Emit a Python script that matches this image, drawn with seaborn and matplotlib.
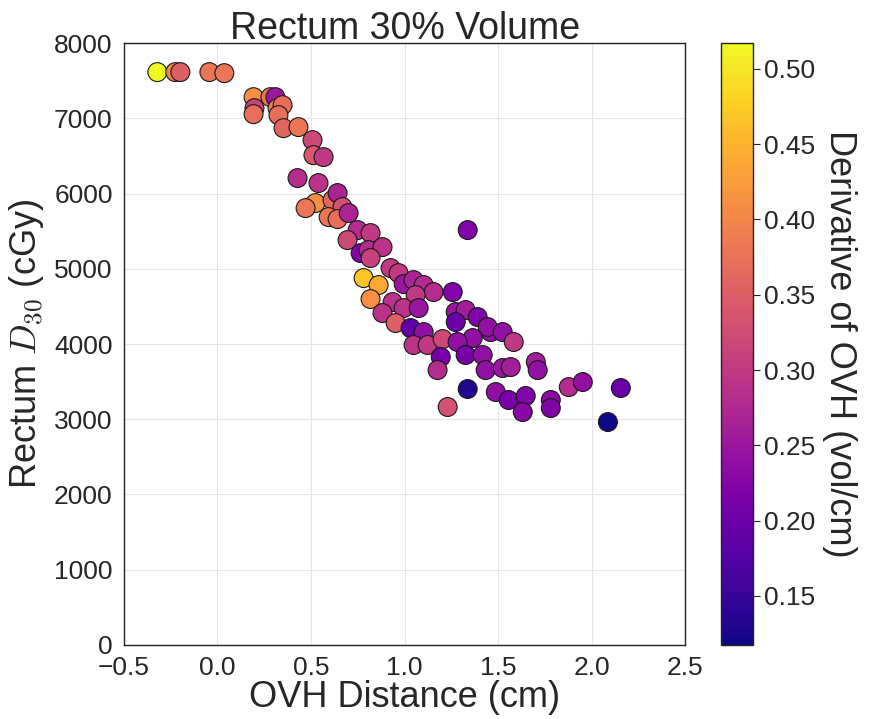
import numpy as np
import pandas as pd
import matplotlib
matplotlib.use("Agg")
import matplotlib.pyplot as plt
import seaborn as sns
from matplotlib.colors import Normalize
from matplotlib.cm import ScalarMappable

# OVH distance (cm)
ovh_distance = [
    -0.321, -0.225, -0.198, -0.043, 0.037, 0.193, 0.198, 0.193, 0.283, 0.310,
    0.321, 0.348, 0.326, 0.353, 0.433, 0.508, 0.513, 0.567, 0.428, 0.540,
    0.524, 0.471, 0.615, 0.642, 0.668, 0.594, 0.642, 0.701, 0.749, 0.818,
    0.695, 0.765, 0.807, 0.882, 0.818, 0.781, 0.861, 0.818, 0.925, 0.968,
    0.995, 1.048, 1.102, 1.155, 1.257, 1.059, 0.936, 0.995, 1.075, 0.882,
    0.952, 1.032, 1.102, 1.048, 1.123, 1.203, 1.273, 1.326, 1.273, 1.390,
    1.460, 1.444, 1.524, 1.364, 1.283, 1.326, 1.417, 1.193, 1.176, 1.433,
    1.524, 1.567, 1.583, 1.701, 1.711, 1.337, 1.230, 1.487, 1.556, 1.647,
    1.631, 1.781, 1.781, 1.877, 1.952, 2.155, 2.086, 1.337,
]
# Rectum D30 (cGy)
rectum_d30 = [
    7615, 7615, 7615, 7615, 7601, 7282, 7136, 7056, 7282, 7282,
    7136, 7176, 7043, 6870, 6884, 6711, 6511, 6485, 6206, 6140,
    5874, 5807, 5914, 6007, 5821, 5688, 5661, 5741, 5515, 5475,
    5382, 5209, 5249, 5289, 5143, 4877, 4784, 4598, 5010, 4943,
    4797, 4850, 4784, 4691, 4691, 4651, 4558, 4478, 4478, 4412,
    4279, 4213, 4159, 3987, 3987, 4066, 4425, 4452, 4292, 4359,
    4159, 4226, 4159, 4080, 4027, 3854, 3854, 3827, 3654, 3654,
    3681, 3694, 4027, 3761, 3654, 3402, 3163, 3362, 3256, 3309,
    3096, 3256, 3149, 3428, 3495, 3415, 2963, 5515,
]
# Derivative of OVH (vol/cm)
ovh_derivative = [
    0.517, 0.40, 0.35, 0.38, 0.38, 0.41, 0.31, 0.37, 0.38, 0.25,
    0.39, 0.37, 0.37, 0.36, 0.38, 0.32, 0.34, 0.30, 0.28, 0.29,
    0.41, 0.38, 0.36, 0.27, 0.33, 0.38, 0.37, 0.27, 0.28, 0.30,
    0.32, 0.22, 0.28, 0.29, 0.31, 0.47, 0.44, 0.41, 0.30, 0.30,
    0.25, 0.27, 0.28, 0.28, 0.22, 0.30, 0.29, 0.29, 0.25, 0.29,
    0.35, 0.19, 0.24, 0.29, 0.30, 0.32, 0.25, 0.26, 0.20, 0.22,
    0.24, 0.24, 0.24, 0.24, 0.24, 0.21, 0.24, 0.21, 0.28, 0.24,
    0.25, 0.26, 0.30, 0.26, 0.24, 0.13, 0.33, 0.24, 0.21, 0.22,
    0.23, 0.23, 0.22, 0.28, 0.24, 0.20, 0.1175, 0.22,
]

x_ticks = [-0.5, 0.0, 0.5, 1.0, 1.5, 2.0, 2.5]
y_ticks = [0, 1000, 2000, 3000, 4000, 5000, 6000, 7000, 8000]
cbar_ticks = [0.15, 0.20, 0.25, 0.30, 0.35, 0.40, 0.45, 0.50]

df = pd.DataFrame({"ovh": ovh_distance, "d30": rectum_d30, "deriv": ovh_derivative})

sns.set_style("whitegrid", {"grid.color": "#e6e6e6", "axes.edgecolor": "#222222"})
plt.rcParams["font.family"] = ["Liberation Sans", "DejaVu Sans"]
plt.rcParams["mathtext.fontset"] = "cm"

fig = plt.figure(figsize=(8.72, 7.19), dpi=100)
ax = fig.add_axes([0.142, 0.103, 0.644, 0.837])
cax = fig.add_axes([0.827, 0.103, 0.036, 0.837])

vmin, vmax = min(ovh_derivative), max(ovh_derivative)
norm = Normalize(vmin=vmin, vmax=vmax)

sns.scatterplot(data=df, x="ovh", y="d30", hue="deriv", palette="plasma",
                hue_norm=norm, s=185, edgecolor="#1a1a1a", linewidth=0.8,
                alpha=1.0, legend=False, ax=ax, zorder=3)

ax.set_xlim(-0.5, 2.5)
ax.set_ylim(0, 8000)
ax.set_xticks(x_ticks)
ax.set_yticks(y_ticks)
ax.set_xticklabels([f"{t:.1f}".replace("-", "\u2212") for t in x_ticks])
ax.tick_params(axis="both", labelsize=19, length=5, color="#222222",
               direction="out", pad=3)
for sp in ax.spines.values():
    sp.set_color("#222222")
    sp.set_linewidth(1.0)
ax.set_xlabel("OVH Distance (cm)", fontsize=26, labelpad=0)
ax.set_ylabel("Rectum $D_{30}$ (cGy)", fontsize=26, labelpad=6)
ax.set_title("Rectum 30% Volume", fontsize=27, pad=3)

sm = ScalarMappable(norm=norm, cmap="plasma")
cb = fig.colorbar(sm, cax=cax)
cb.set_ticks(cbar_ticks)
cb.ax.tick_params(labelsize=19, length=5, color="#222222", pad=3)
cb.outline.set_edgecolor("#222222")
cb.outline.set_linewidth(1.0)
cb.set_label("Derivative of OVH (vol/cm)", fontsize=26, rotation=270, labelpad=30)

fig.savefig("out.png", dpi=100)
